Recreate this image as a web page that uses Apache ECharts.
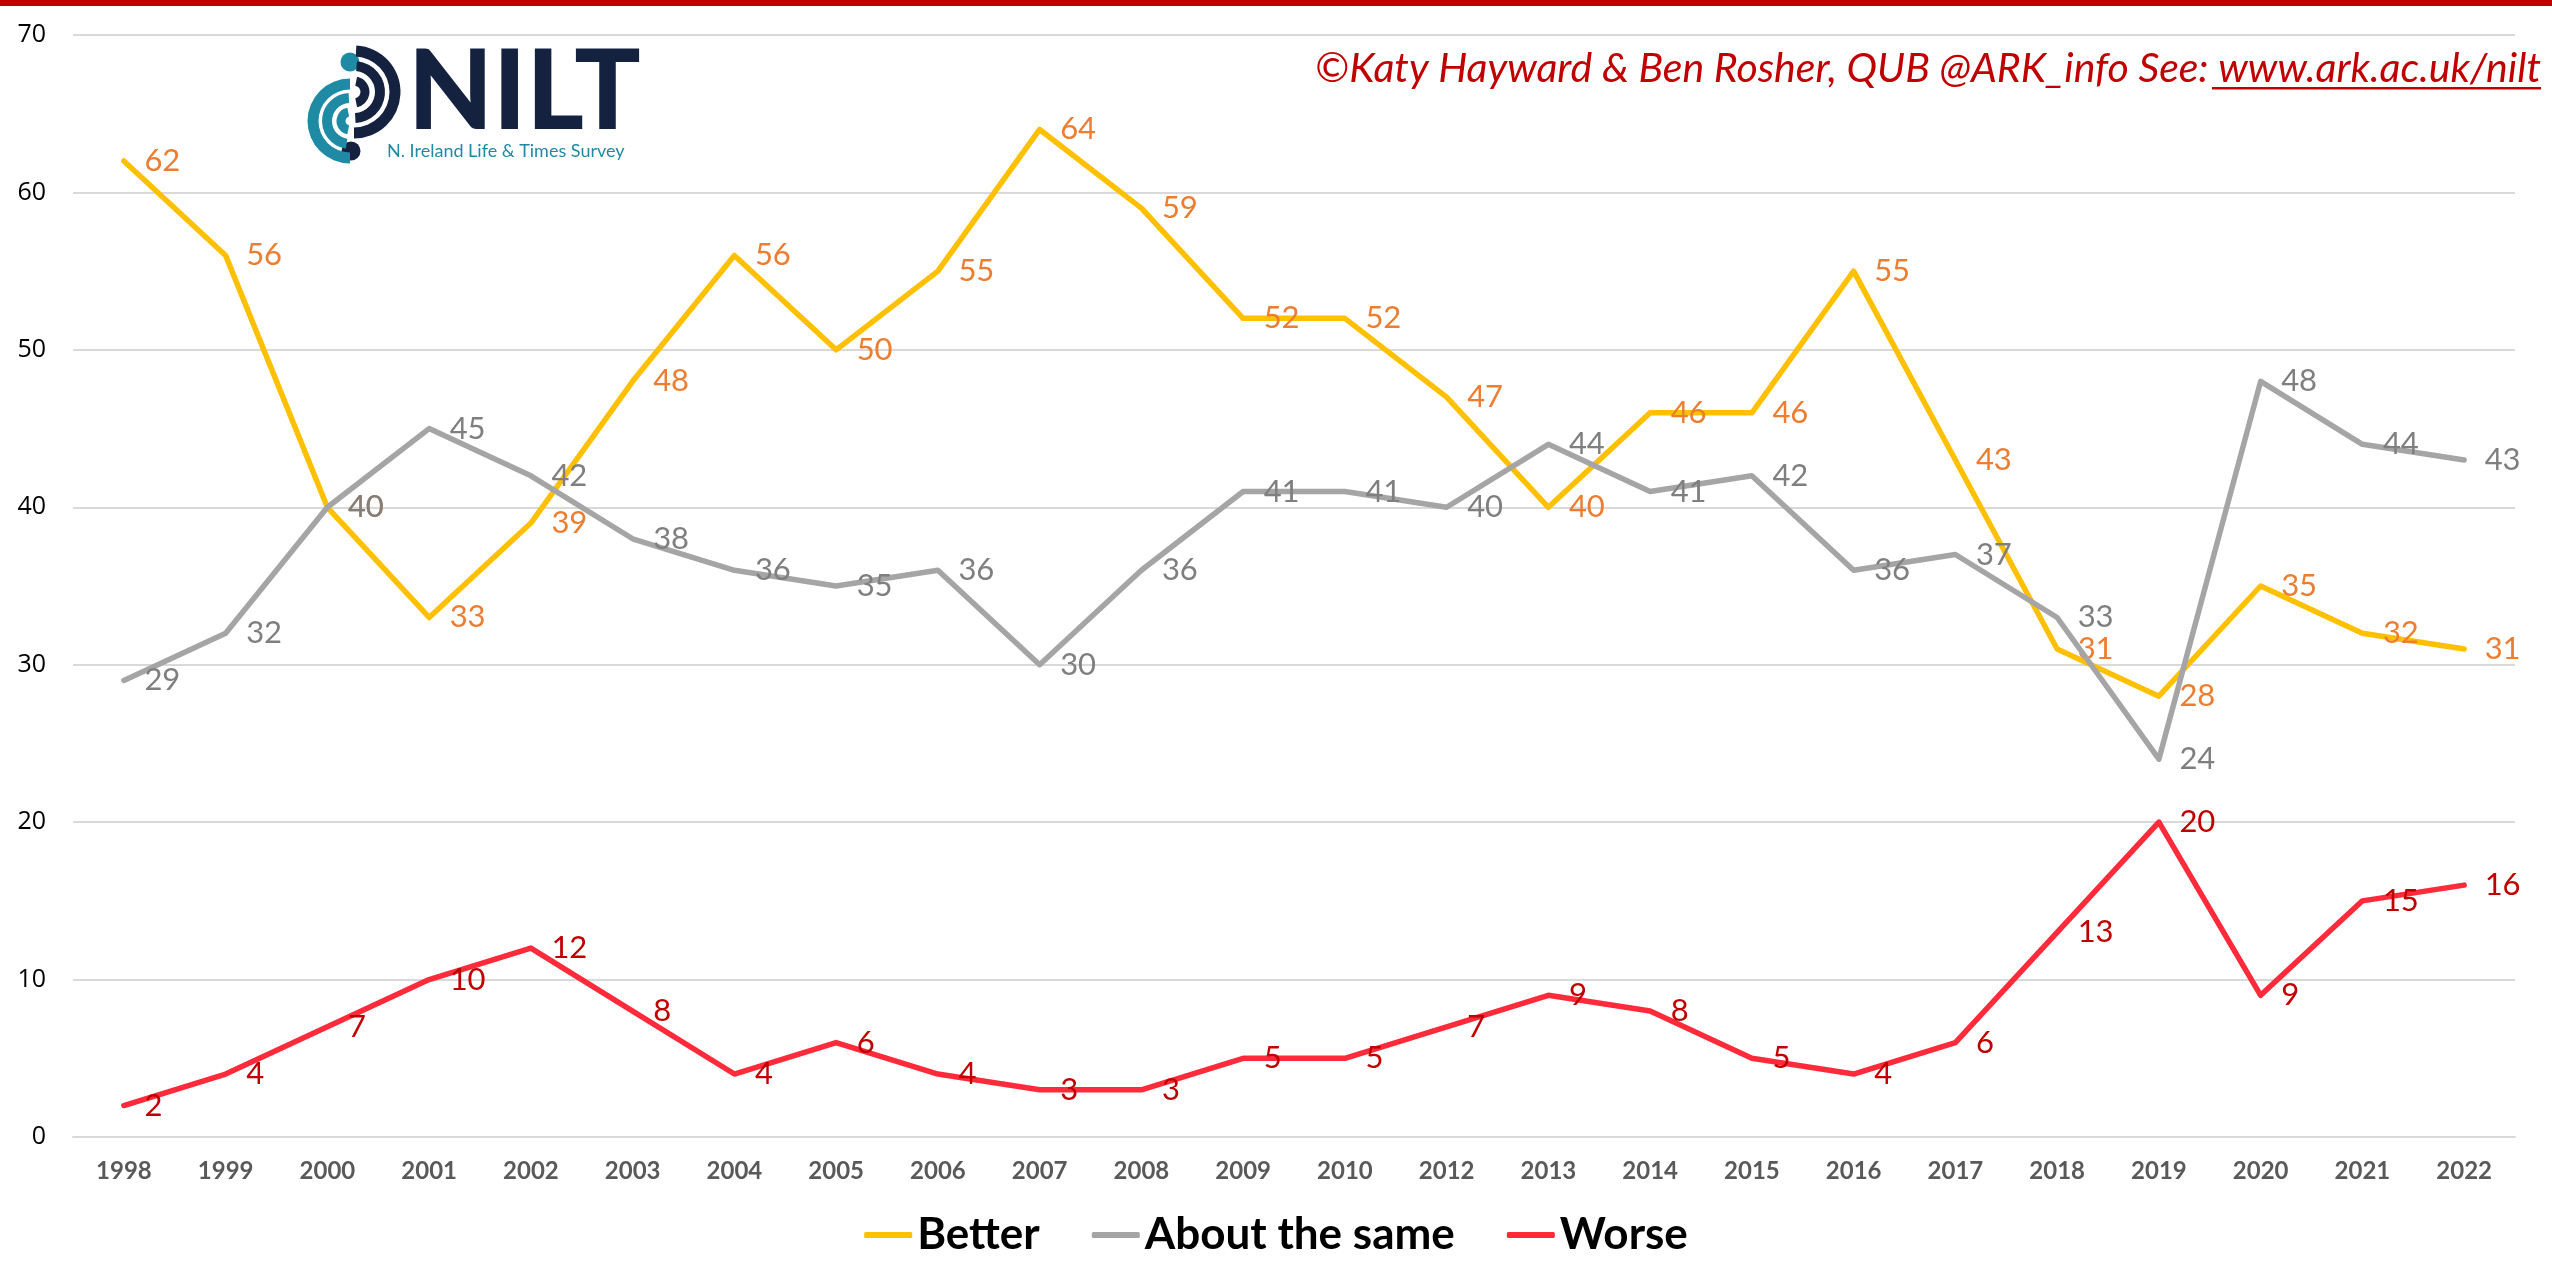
<!DOCTYPE html>
<html>
<head>
<meta charset="utf-8">
<script src="https://cdn.jsdelivr.net/npm/echarts@6/dist/echarts.min.js"></script>
<style>
html,body{margin:0;padding:0;background:#fff;}
#chart{width:2552px;height:1264px;}
</style>
</head>
<body>
<div id="chart"></div>
<script>
const years = ['1998','1999','2000','2001','2002','2003','2004','2005','2006','2007','2008','2009','2010','2012','2013','2014','2015','2016','2017','2018','2019','2020','2021','2022'];
const better = [62,56,40,33,39,48,56,50,55,64,59,52,52,47,40,46,46,55,43,31,28,35,32,31];
const aboutSame = [29,32,40,45,42,38,36,35,36,30,36,41,41,40,44,41,42,36,37,33,24,48,44,43];
const worse = [2,4,7,10,12,8,4,6,4,3,3,5,5,7,9,8,5,4,6,13,20,9,15,16];
const yTicks = [0,10,20,30,40,50,60,70];

const chart = echarts.init(document.getElementById('chart'));

function mkSeries(name, data, lineColor, labelColor, z) {
  return {
    name: name,
    type: 'line',
    data: data,
    z: z,
    symbol: 'circle',
    symbolSize: 1,
    showSymbol: true,
    itemStyle: { color: lineColor },
    lineStyle: { color: lineColor, width: 5.5, cap: 'round', join: 'round' },
    label: {
      show: true,
      position: 'right',
      distance: 20,
      color: labelColor,
      fontFamily: 'Lato',
      fontSize: 31
    },
    emphasis: { disabled: true }
  };
}

const teal = '#1E8AA3';
const navy = '#14213F';
const tcx = 350, tcy = 121, ncx = 354, ncy = 92;
function band(cx, cy, rMid, w, s, e, color) {
  return { type: 'sector', shape: { cx: cx, cy: cy, r0: rMid - w/2, r: rMid + w/2, startAngle: s, endAngle: e }, style: { fill: color } };
}

const option = {
  animation: false,
  backgroundColor: '#ffffff',
  grid: { left: 73, right: 37, top: 35, bottom: 127, containLabel: false },
  legend: {
    bottom: 2,
    left: 'center',
    icon: 'roundRect',
    itemWidth: 48,
    itemHeight: 6,
    itemGap: 52,
    textStyle: { fontFamily: 'Lato', fontWeight: 'bold', fontSize: 44, color: '#000' },
    data: [
      { name: 'Better', itemStyle: { color: '#FFC000' } },
      { name: 'About the same', itemStyle: { color: '#A5A5A5' } },
      { name: 'Worse', itemStyle: { color: '#FF2B3B' } }
    ]
  },
  xAxis: {
    type: 'category',
    data: years,
    boundaryGap: true,
    axisLine: { show: true, lineStyle: { color: '#D9D9D9', width: 2 } },
    axisTick: { show: false },
    axisLabel: { fontFamily: 'Lato', fontWeight: 'bold', fontSize: 24, color: '#595959', margin: 22, interval: 0 }
  },
  yAxis: {
    type: 'value',
    min: yTicks[0],
    max: yTicks[yTicks.length - 1],
    interval: 10,
    axisLine: { show: false },
    axisTick: { show: false },
    splitLine: { lineStyle: { color: '#D9D9D9', width: 2 } },
    axisLabel: { fontFamily: 'Open Sans', fontSize: 25, color: '#000', margin: 27 }
  },
  series: [
    mkSeries('Better', better, '#FFC000', '#ED7D31', 2),
    mkSeries('About the same', aboutSame, '#A5A5A5', '#7F7F7F', 3),
    mkSeries('Worse', worse, '#FF2B3B', '#C00000', 4)
  ],
  graphic: [
    { type: 'rect', shape: { x: 0, y: 0, width: 2552, height: 6 }, style: { fill: '#C00000' }, z: 100 },
    { type: 'text', x: 2541, y: 69, style: { text: '©Katy Hayward & Ben Rosher, QUB @ARK_info See: www.ark.ac.uk/nilt', fontFamily: 'Lato', fontStyle: 'italic', fontSize: 41, fill: '#C00000', align: 'right', verticalAlign: 'middle' }, z: 100 },
    { type: 'rect', shape: { x: 2212, y: 87, width: 329, height: 2.5 }, style: { fill: '#C00000' }, z: 100 },
    // logo
    { type: 'group', z: 100, children: [
      { type: 'circle', shape: { cx: 350, cy: 62, r: 9.5 }, style: { fill: teal } },
      { type: 'circle', shape: { cx: 351, cy: 151, r: 9.5 }, style: { fill: navy } },
      band(tcx, tcy, 37, 11, Math.PI/2, Math.PI*1.5, teal),
      band(tcx, tcy, 23, 10, Math.PI/2 + 0.15, Math.PI*1.5 - 0.05, teal),
      band(tcx, tcy, 9, 9, Math.PI/2 + 0.2, Math.PI*1.5 - 0.2, teal),
      band(ncx, ncy, 41, 11, -Math.PI/2 + 0.05, Math.PI/2, navy),
      band(ncx, ncy, 26, 10, -Math.PI/2 + 0.1, Math.PI/2 - 0.05, navy),
      band(ncx, ncy, 11, 9, -Math.PI/2 + 0.2, Math.PI/2 - 0.2, navy),
      { type: 'text', x: 408, y: 94, style: { text: 'NILT', fontFamily: 'Lato', fontWeight: 900, fontSize: 110, fill: navy, verticalAlign: 'middle' } },
      { type: 'text', x: 387, y: 151, style: { text: 'N. Ireland Life & Times Survey', fontFamily: 'Lato', fontSize: 18, fill: teal, verticalAlign: 'middle' } }
    ]}
  ]
};
chart.setOption(option);
</script>
</body>
</html>
